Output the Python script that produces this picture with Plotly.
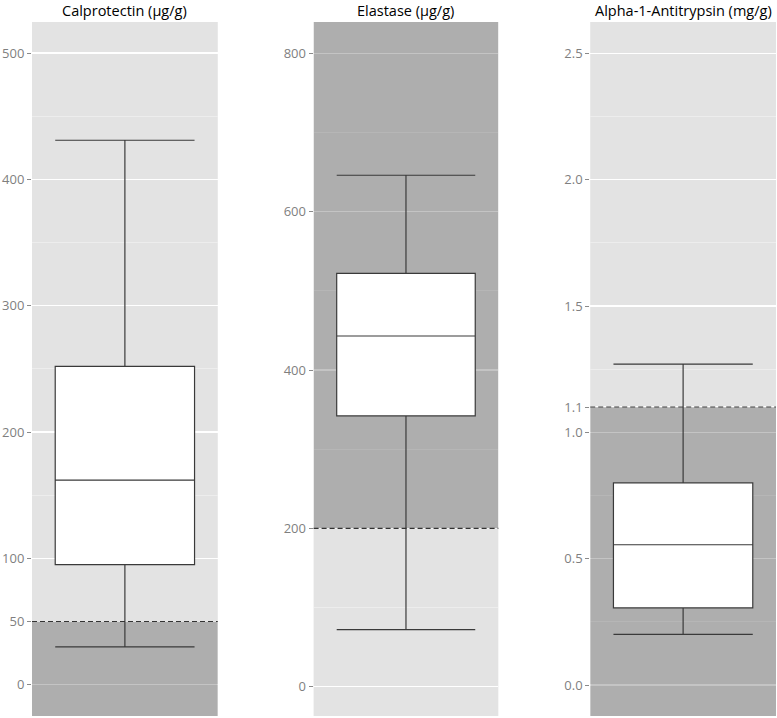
import plotly.graph_objects as go

# ---- data ----
titles = ["Calprotectin (μg/g)", "Elastase (μg/g)", "Alpha-1-Antitrypsin (mg/g)"]
lower_whisker = [30, 72, 0.20]
q1_vals = [95, 342, 0.305]
median_vals = [162, 443, 0.555]
q3_vals = [252, 522, 0.80]
upper_whisker = [431, 646, 1.27]
cutoffs = [50, 200, 1.1]
cutoff_shade_below = [True, False, True]
tick_vals = [[0, 50, 100, 200, 300, 400, 500],
             [0, 200, 400, 600, 800],
             [0.0, 0.5, 1.0, 1.1, 1.5, 2.0, 2.5]]
minor_vals = [[50, 150, 250, 350, 450],
              [100, 300, 500, 700],
              [0.25, 0.75, 1.25, 1.75, 2.25]]
tick_formats = ["d", "d", ".1f"]
y_ranges = [[-24.8, 524.6], [-37, 839.6], [-0.1227, 2.624]]

domains = [[0.0, 0.2497], [0.3785, 0.6268], [0.7503, 1.0]]

LIGHT = "#E3E3E3"
fig = go.Figure()

for i in range(3):
    xa = "x" if i == 0 else f"x{i+1}"
    ya = "y" if i == 0 else f"y{i+1}"
    # shaded region beyond cutoff (bar layer sits above gridlines, below boxes)
    if cutoff_shade_below[i]:
        y0, y1 = y_ranges[i][0], cutoffs[i]
    else:
        y0, y1 = cutoffs[i], y_ranges[i][1]
    fig.add_trace(go.Bar(
        x=[0], base=[y0], y=[y1 - y0], width=[1.0],
        marker=dict(color="rgba(0,0,0,0.23)", line=dict(width=0)),
        showlegend=False, hoverinfo="skip", xaxis=xa, yaxis=ya))
    fig.add_trace(go.Box(
        x=[0], q1=[q1_vals[i]], median=[median_vals[i]], q3=[q3_vals[i]],
        lowerfence=[lower_whisker[i]], upperfence=[upper_whisker[i]],
        width=0.75, whiskerwidth=1, fillcolor="white",
        line=dict(color="#3a3a3a", width=1.2),
        boxpoints=False, showlegend=False, hoverinfo="skip",
        xaxis=xa, yaxis=ya))
    xkey = "xaxis" if i == 0 else f"xaxis{i+1}"
    ykey = "yaxis" if i == 0 else f"yaxis{i+1}"
    fig.layout[xkey] = dict(domain=domains[i], range=[-0.5, 0.5], showgrid=False,
                            showticklabels=False, zeroline=False, fixedrange=True,
                            anchor=ya, automargin=False)
    fig.layout[ykey] = dict(
        domain=[0, 1], range=y_ranges[i], anchor=xa, automargin=False,
        tickvals=tick_vals[i], tickformat=tick_formats[i],
        showgrid=True, gridcolor="white", gridwidth=1.2, zeroline=False,
        ticks="outside", ticklen=4, tickcolor="#8a8a8a", tickwidth=1,
        tickfont=dict(family="Open Sans", size=13, color="#7f7f7f"),
        minor=dict(tickvals=minor_vals[i], showgrid=True, gridcolor="#EFEFEF",
                   gridwidth=0.8, ticks=""),
    )
    # dashed cutoff line
    fig.add_shape(type="line", xref=f"{xa} domain", yref=ya,
                  x0=0, x1=1, y0=cutoffs[i], y1=cutoffs[i],
                  line=dict(color="#333333", width=1.1, dash="5px,3px"),
                  layer="above")
    # title
    fig.add_annotation(text=titles[i], xref=f"{xa} domain", yref="paper",
                       x=0.5, y=1, yshift=0, xanchor="center", yanchor="bottom",
                       showarrow=False,
                       font=dict(family="Open Sans", size=14.5, color="black"))

fig.update_layout(
    width=777, height=718,
    margin=dict(l=32, r=1, t=22, b=2),
    paper_bgcolor="white", plot_bgcolor=LIGHT,
    barmode="overlay",
)

fig.write_html("out.html", config={"displayModeBar": False, "staticPlot": True},
               post_script="document.body.style.margin='0';")
